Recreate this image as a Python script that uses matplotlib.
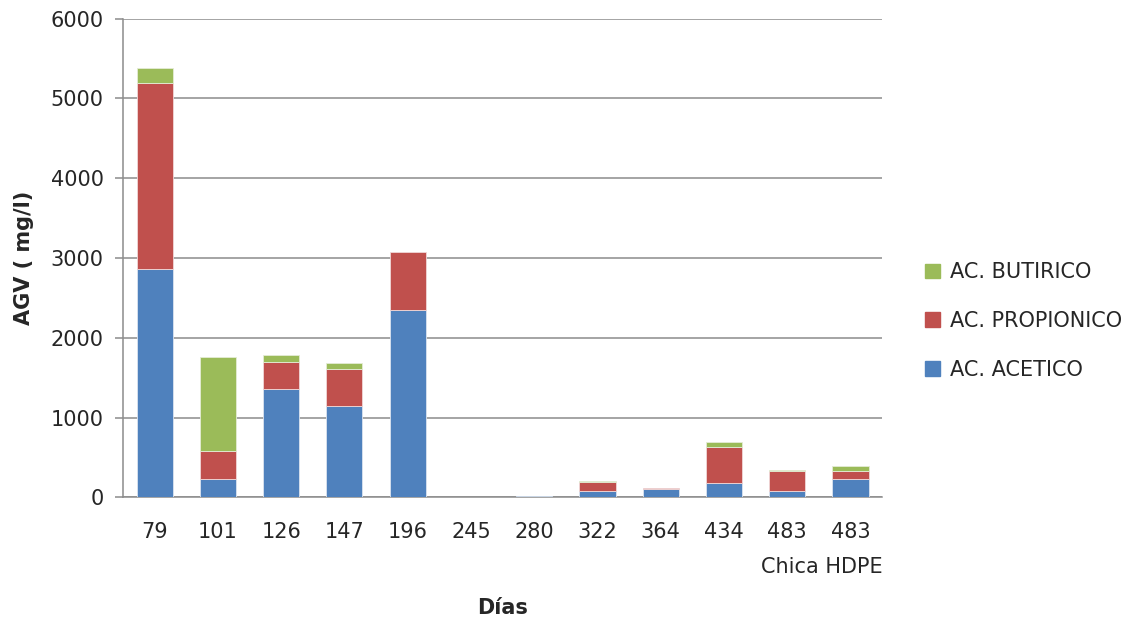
import numpy as np
import matplotlib.pyplot as plt
from matplotlib.patches import Patch
from matplotlib.transforms import blended_transform_factory

plt.rcParams['font.family'] = ['DejaVu Sans']

# dias de muestreo
dias = ['79', '101', '126', '147', '196', '245', '280', '322', '364', '434', '483', '483']
# AGV en mg/l
acetico = [2864, 236, 1361, 1148, 2348, 0, 20, 83, 105, 180, 83, 230]
propionico = [2327, 344, 341, 458, 725, 0, 0, 112, 13, 453, 242, 95]
butirico = [188, 1185, 80, 80, 0, 0, 0, 15, 0, 63, 18, 63]

c_ace = '#4F81BD'
c_pro = '#C0504D'
c_but = '#9BBB59'
grid_c = '#8C8C8C'
txt_c = '#262626'
fs = 15

fig = plt.figure(figsize=(11.33, 6.21), dpi=100)
ax = fig.add_axes([0.1086, 0.199, 0.670, 0.771])

x = np.arange(len(dias))
w = 0.57
ace = np.array(acetico)
pro = np.array(propionico)
but = np.array(butirico)


def lw(vals):
    # no edge on empty segments
    return [0.6 if v > 0 else 0 for v in vals]


ax.bar(x, ace, w, color=c_ace, edgecolor='#dbe4f0', linewidth=lw(ace), zorder=3)
ax.bar(x, pro, w, bottom=ace, color=c_pro, edgecolor='#f0d8d8', linewidth=lw(pro), zorder=3)
ax.bar(x, but, w, bottom=ace + pro, color=c_but, edgecolor='#e4ecd6', linewidth=lw(but), zorder=3)

ax.set_xlim(-0.5, len(dias) - 0.5)
ax.set_ylim(0, 6000)
ax.set_yticks(np.arange(0, 6001, 1000))
ax.yaxis.grid(True, color=grid_c, linewidth=1.1, zorder=0)
ax.set_axisbelow(True)
for s in ['top', 'right']:
    ax.spines[s].set_visible(False)
ax.spines['left'].set_color(grid_c)
ax.spines['bottom'].set_color(grid_c)
ax.spines['left'].set_linewidth(1.1)
ax.spines['bottom'].set_linewidth(1.1)

ax.set_xticks(x)
ax.set_xticklabels(dias)
ax.tick_params(axis='x', length=0, pad=18, labelsize=fs, labelcolor=txt_c)
ax.tick_params(axis='y', length=6, width=1.1, color=grid_c, pad=8, labelsize=fs, labelcolor=txt_c)

tr = blended_transform_factory(ax.transData, ax.transAxes)
ax.text(len(dias) - 0.5, -0.145, 'Chica HDPE', transform=tr, ha='right', va='center',
        fontsize=fs, color=txt_c)

ax.set_xlabel('Días', fontsize=fs, fontweight='bold', color=txt_c, labelpad=40)
ax.set_ylabel('AGV ( mg/l)', fontsize=fs, fontweight='bold', color=txt_c, labelpad=12)

handles = [Patch(color=c_but), Patch(color=c_pro), Patch(color=c_ace)]
labels = ['AC. BUTIRICO', 'AC. PROPIONICO', 'AC. ACETICO']
fig.legend(handles, labels, loc='center left', bbox_to_anchor=(0.8, 0.483), frameon=False,
           fontsize=fs, labelspacing=1.38, handlelength=0.7, handleheight=0.7,
           handletextpad=0.5, labelcolor=txt_c)

fig.savefig('out.png', dpi=100)
